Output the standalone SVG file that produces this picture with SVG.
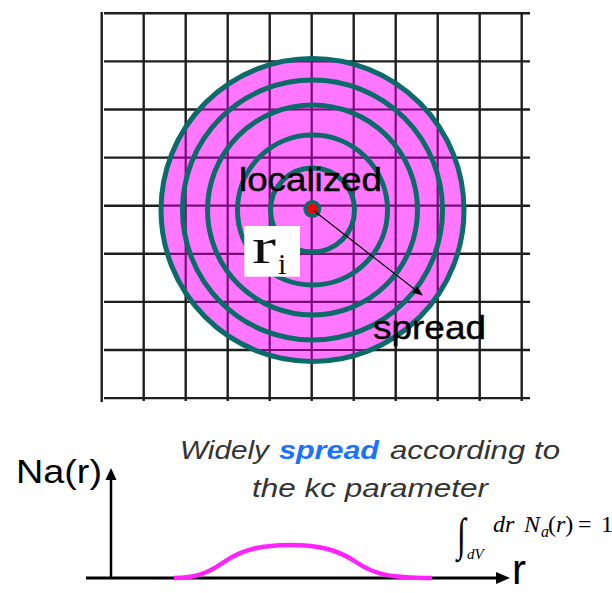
<svg xmlns="http://www.w3.org/2000/svg" width="612" height="593" viewBox="0 0 612 593">
<style>
.grid{stroke:#1e1e1e;stroke-width:2.4}
.gridp{stroke:#7a0a7a;stroke-width:2.2}
.ring{fill:none;stroke:#0a6b68;stroke-width:5}
.lbl{font-family:"Liberation Sans",Arial,sans-serif;fill:#000}
.it{font-family:"Liberation Sans",Arial,sans-serif;font-style:italic;fill:#333}
.m{font-family:"Liberation Serif","Times New Roman",serif;font-style:italic;fill:#000}
.mu{font-family:"Liberation Serif","Times New Roman",serif;fill:#000}
.ax{stroke:#000;fill:none}
</style>
<defs>
<clipPath id="cc"><circle cx="312.5" cy="210" r="152"/></clipPath>
<marker id="ah" markerWidth="10" markerHeight="8" refX="9" refY="4" orient="auto" markerUnits="userSpaceOnUse">
<path d="M0,0 L10,4 L0,8 Z" fill="#000"/>
</marker>
<g id="gl">
<line x1="101.7" y1="12" x2="101.7" y2="402"/>
<line x1="143.7" y1="13" x2="143.7" y2="401"/>
<line x1="185.7" y1="13" x2="185.7" y2="401"/>
<line x1="227.7" y1="13" x2="227.7" y2="401"/>
<line x1="269.7" y1="13" x2="269.7" y2="401"/>
<line x1="311.7" y1="13" x2="311.7" y2="401"/>
<line x1="353.7" y1="13" x2="353.7" y2="401"/>
<line x1="395.7" y1="13" x2="395.7" y2="401"/>
<line x1="437.7" y1="13" x2="437.7" y2="401"/>
<line x1="479.7" y1="13" x2="479.7" y2="401"/>
<line x1="521.7" y1="13" x2="521.7" y2="401"/>
<line x1="104" y1="13.3" x2="530" y2="13.3"/>
<line x1="104" y1="61.4" x2="530" y2="61.4"/>
<line x1="104" y1="109.5" x2="530" y2="109.5"/>
<line x1="104" y1="157.6" x2="530" y2="157.6"/>
<line x1="104" y1="205.7" x2="530" y2="205.7"/>
<line x1="104" y1="253.8" x2="530" y2="253.8"/>
<line x1="104" y1="301.9" x2="530" y2="301.9"/>
<line x1="104" y1="350" x2="530" y2="350"/>
<line x1="104" y1="398.1" x2="530" y2="398.1"/>
</g>
</defs>
<rect width="612" height="593" fill="#fff"/>
<g id="grid" class="grid"><use href="#gl"/></g>
<g id="cloud">
<circle cx="312.5" cy="210" r="152" fill="#ff77ff"/>
<g class="gridp" clip-path="url(#cc)"><use href="#gl"/></g>
<circle class="ring" cx="312.5" cy="210" r="151.5"/>
<circle class="ring" cx="312.5" cy="210" r="130"/>
<circle class="ring" cx="312.5" cy="210" r="105"/>
<circle class="ring" cx="312.5" cy="210" r="75"/>
<circle class="ring" cx="312.5" cy="210" r="42"/>
<circle cx="312.3" cy="209" r="9" fill="#0a6b68"/>
<circle cx="312.3" cy="209" r="5" fill="#ff0000"/>
</g>
<g id="connectors">
<line x1="313" y1="210" x2="422" y2="295" stroke="#000" stroke-width="1.2" marker-end="url(#ah)"/>
<line class="ax" x1="111" y1="578" x2="111" y2="478" stroke-width="2.5"/>
<path d="M105.5,480 L111,468 L116.5,480 Z" fill="#000"/>
<line class="ax" x1="86" y1="578" x2="498" y2="578" stroke-width="3"/>
<path d="M496,572 L510,578 L496,584 Z" fill="#000"/>
</g>
<g id="labels">
<text class="lbl" x="239" y="190.5" font-size="33" textLength="143" lengthAdjust="spacingAndGlyphs" stroke="#000" stroke-width="0.4">localized</text>
<text class="lbl" x="373" y="339" font-size="33" textLength="113" lengthAdjust="spacingAndGlyphs" stroke="#000" stroke-width="0.4">spread</text>
</g>
<g id="ri">
<rect x="244.3" y="226" width="55.7" height="50.7" fill="#fff"/>
<text x="252" y="263" font-family="'Liberation Serif','Times New Roman',serif" font-size="50" fill="#111" textLength="24" lengthAdjust="spacingAndGlyphs">r</text>
<text x="278" y="274" font-family="'Liberation Serif','Times New Roman',serif" font-size="30" fill="#111">i</text>
</g>
<g id="plot">
<text class="lbl" x="16" y="483" font-size="33" textLength="86" lengthAdjust="spacingAndGlyphs">Na(r)</text>
<path d="M174,578 C196,578 208,573 224,562 C240,551 258,545 290,545 C320,545 338,550 356,562 C372,573 386,578 432,578" fill="none" stroke="#ff22ff" stroke-width="4.5"/>
<text class="lbl" x="512" y="584" font-size="42">r</text>
</g>
<g id="caption">
<text class="it" x="180" y="459" font-size="26" textLength="89" lengthAdjust="spacingAndGlyphs">Widely</text>
<text x="279" y="459" font-family="'Liberation Sans',Arial,sans-serif" font-style="italic" font-weight="bold" font-size="26" fill="#1a73ff" textLength="100" lengthAdjust="spacingAndGlyphs">spread</text>
<text class="it" x="390" y="459" font-size="26" textLength="170" lengthAdjust="spacingAndGlyphs">according to</text>
<text class="it" x="252" y="497" font-size="26" textLength="236" lengthAdjust="spacingAndGlyphs">the kc parameter</text>
</g>
<g id="formula">
<text class="mu" transform="translate(457,550) scale(0.8,1.15)" font-size="40">∫</text>
<text class="m" x="467" y="559" font-size="15">dV</text>
<text class="m" x="493" y="532" font-size="24">dr</text>
<text class="m" x="524" y="532" font-size="24">N</text>
<text class="m" x="541" y="537" font-size="16">a</text>
<text class="mu" x="548" y="532" font-size="24">(<tspan font-style="italic">r</tspan>)</text>
<text class="mu" x="578" y="532" font-size="24">=</text>
<text class="mu" x="601" y="532" font-size="24">1</text>
</g>
</svg>
